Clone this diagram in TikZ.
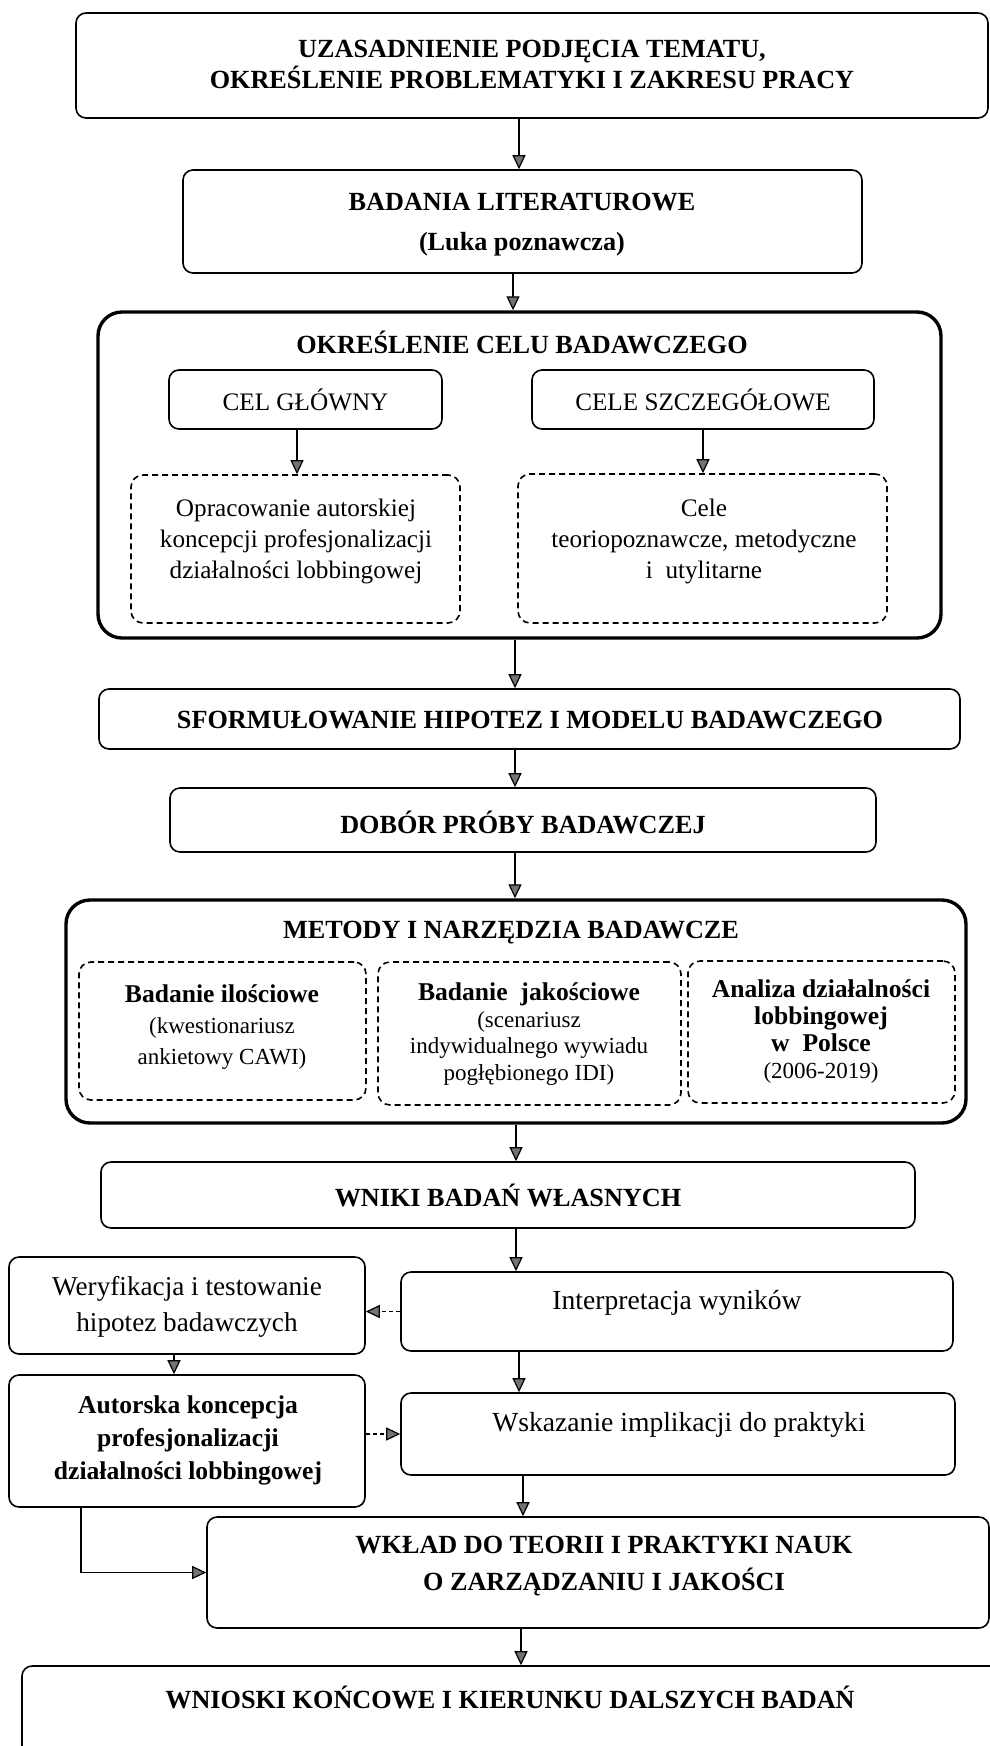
\documentclass[tikz,border=0pt]{standalone}
\usepackage{fontspec}
\setmainfont{Liberation Serif}
\usetikzlibrary{arrows.meta,fit}

\begin{document}
\begin{tikzpicture}[x=0.5pt,y=-0.5pt,
  box/.style={draw, line width=0.8pt, rounded corners=5pt, inner sep=0pt},
  bigbox/.style={draw, line width=1.7pt, rounded corners=12pt, inner sep=0pt},
  dbox/.style={draw, line width=0.8pt, dash pattern=on 3pt off 2pt, rounded corners=6pt, inner sep=0pt},
  hd/.style={font=\bfseries\fontsize{13.1}{15.5}\selectfont, align=center, inner sep=0pt},
  tx/.style={font=\fontsize{12.6}{15.5}\selectfont, align=center, inner sep=0pt},
  arr/.style={line width=0.6pt, -{Triangle[length=7pt,width=6.5pt,fill=black!55]}},
  darr/.style={arr, dash pattern=on 2pt off 1.5pt},
]
\useasboundingbox (0,0) rectangle (990,1746);
\clip (0,0) rectangle (990,1746);

% helper coordinates for arrow x positions
\coordinate (ax81) at (81,0);
\coordinate (ax174) at (174,0);
\coordinate (ax297) at (297,0);
\coordinate (ax513) at (513,0);
\coordinate (ax515) at (515,0);
\coordinate (ax516) at (516,0);
\coordinate (ax519) at (519,0);
\coordinate (ax521) at (521,0);
\coordinate (ax523) at (523,0);
\coordinate (ax703) at (703,0);

% top
\node[box, fit={(76,13) (988,118)}] (b1) {};
\node[hd] (t1) at (532,64.5) {UZASADNIENIE PODJĘCIA TEMATU,\\OKREŚLENIE PROBLEMATYKI I ZAKRESU PRACY};

\node[box, fit={(183,170) (862,273)}] (b2) {};
\node[hd, font=\bfseries\fontsize{13.1}{20}\selectfont] (t2) at (522,225) {BADANIA LITERATUROWE\\(Luka poznawcza)};

% cel badawczy
\node[bigbox, fit={(98,312) (941,638)}] (c1) {};
\node[hd] (c1t) at (522,342) {OKREŚLENIE CELU BADAWCZEGO};
\node[box, fit={(169,370) (442,429)}] (cg) {};
\node[tx] (cgt) at (cg) {CEL GŁÓWNY};
\node[box, fit={(532,370) (874,429)}] (cs) {};
\node[tx] (cst) at (cs) {CELE SZCZEGÓŁOWE};
\node[dbox, fit={(131,475) (460,623)}] (d1) {};
\node[tx] (d1t) at (296,541) {Opracowanie autorskiej\\koncepcji profesjonalizacji\\działalności lobbingowej};
\node[dbox, fit={(518,474) (887,623)}] (d2) {};
\node[tx] (d2t) at (704,541) {Cele\\teoriopoznawcze, metodyczne\\i\ \ utylitarne};

\node[box, fit={(99,689) (960,749)}] (sf) {};
\node[hd] (sft) at (530,720) {SFORMUŁOWANIE HIPOTEZ I MODELU BADAWCZEGO};

\node[box, fit={(170,788) (876,852)}] (db) {};
\node[hd] (dbt) at (523,822) {DOBÓR PRÓBY BADAWCZEJ};

% metody
\node[bigbox, fit={(66,900) (966,1123)}] (c2) {};
\node[hd] (c2t) at (511,933) {METODY I NARZĘDZIA BADAWCZE};
\node[dbox, fit={(79,962) (366,1100)}] (m1) {};
\node[tx, font=\fontsize{11.5}{15.5}\selectfont] (m1t) at (222,1027)
  {{\bfseries\fontsize{12.8}{15.5}\selectfont Badanie ilościowe}\\(kwestionariusz\\ankietowy CAWI)};
\node[dbox, fit={(378,962) (681,1105)}] (m2) {};
\node[tx, font=\fontsize{11.5}{13.2}\selectfont] (m2t) at (529,1034)
  {{\bfseries\fontsize{12.8}{13.2}\selectfont Badanie\ \ jakościowe}\\(scenariusz\\indywidualnego wywiadu\\pogłębionego IDI)};
\node[dbox, fit={(688,961) (955,1103)}] (m3) {};
\node[tx, font=\fontsize{11.5}{13.5}\selectfont] (m3t) at (821,1032)
  {{\bfseries\fontsize{12.8}{13.5}\selectfont Analiza działalności}\\{\bfseries\fontsize{12.8}{13.5}\selectfont lobbingowej}\\{\bfseries\fontsize{12.8}{13.5}\selectfont w\ \ Polsce}\\(2006-2019)};

\node[box, fit={(101,1162) (915,1228)}] (wn) {};
\node[hd] (wnt) at (508,1195) {WNIKI BADAŃ WŁASNYCH};

% lower part
\node[box, fit={(401,1272) (953,1351)}] (in) {};
\node[tx, font=\fontsize{13.8}{17}\selectfont] (intx) at (677,1303) {Interpretacja wyników};
\node[box, fit={(9,1257) (365,1354)}] (we) {};
\node[tx, font=\fontsize{13.6}{18}\selectfont] (wet) at (187,1307) {Weryfikacja i testowanie\\hipotez badawczych};
\node[box, fit={(9,1375) (365,1507)}] (au) {};
\node[hd, font=\bfseries\fontsize{12.8}{16.5}\selectfont] (aut) at (188,1440) {Autorska koncepcja\\profesjonalizacji\\działalności lobbingowej};
\node[box, fit={(401,1393) (955,1475)}] (ws) {};
\node[tx, font=\fontsize{13.8}{17}\selectfont] (wst) at (679,1425) {Wskazanie implikacji do praktyki};
\node[box, fit={(207,1517) (989,1628)}] (wk) {};
\node[hd, font=\bfseries\fontsize{13.1}{18.5}\selectfont] (wkt) at (604,1566) {WKŁAD DO TEORII I PRAKTYKI NAUK\\O ZARZĄDZANIU I JAKOŚCI};
\node[box, fit={(22,1666) (1010,1800)}] (wo) {};
\node[hd] (wot) at (510,1697) {WNIOSKI KOŃCOWE I KIERUNKU DALSZYCH BADAŃ};

% connectors
\draw[arr] (b1.south -| ax519) -- (b2.north -| ax519);
\draw[arr] (b2.south -| ax513) -- (c1.north -| ax513);
\draw[arr] (cg.south -| ax297) -- (d1.north -| ax297);
\draw[arr] (cs.south -| ax703) -- (d2.north -| ax703);
\draw[arr] (c1.south -| ax515) -- (sf.north -| ax515);
\draw[arr] (sf.south -| ax515) -- (db.north -| ax515);
\draw[arr] (db.south -| ax515) -- (c2.north -| ax515);
\draw[arr] (c2.south -| ax516) -- (wn.north -| ax516);
\draw[arr] (wn.south -| ax516) -- (in.north -| ax516);
\draw[darr] (in.west) -- (we.east |- in.west);
\draw[arr] (we.south -| ax174) -- (au.north -| ax174);
\draw[arr] (in.south -| ax519) -- (ws.north -| ax519);
\draw[darr] (au.east |- ws.west) -- (ws.west);
\draw[arr] (ws.south -| ax523) -- (wk.north -| ax523);
\draw[arr] (au.south -| ax81) |- (wk.west);
\draw[arr] (wk.south -| ax521) -- (wo.north -| ax521);
\end{tikzpicture}
\end{document}
